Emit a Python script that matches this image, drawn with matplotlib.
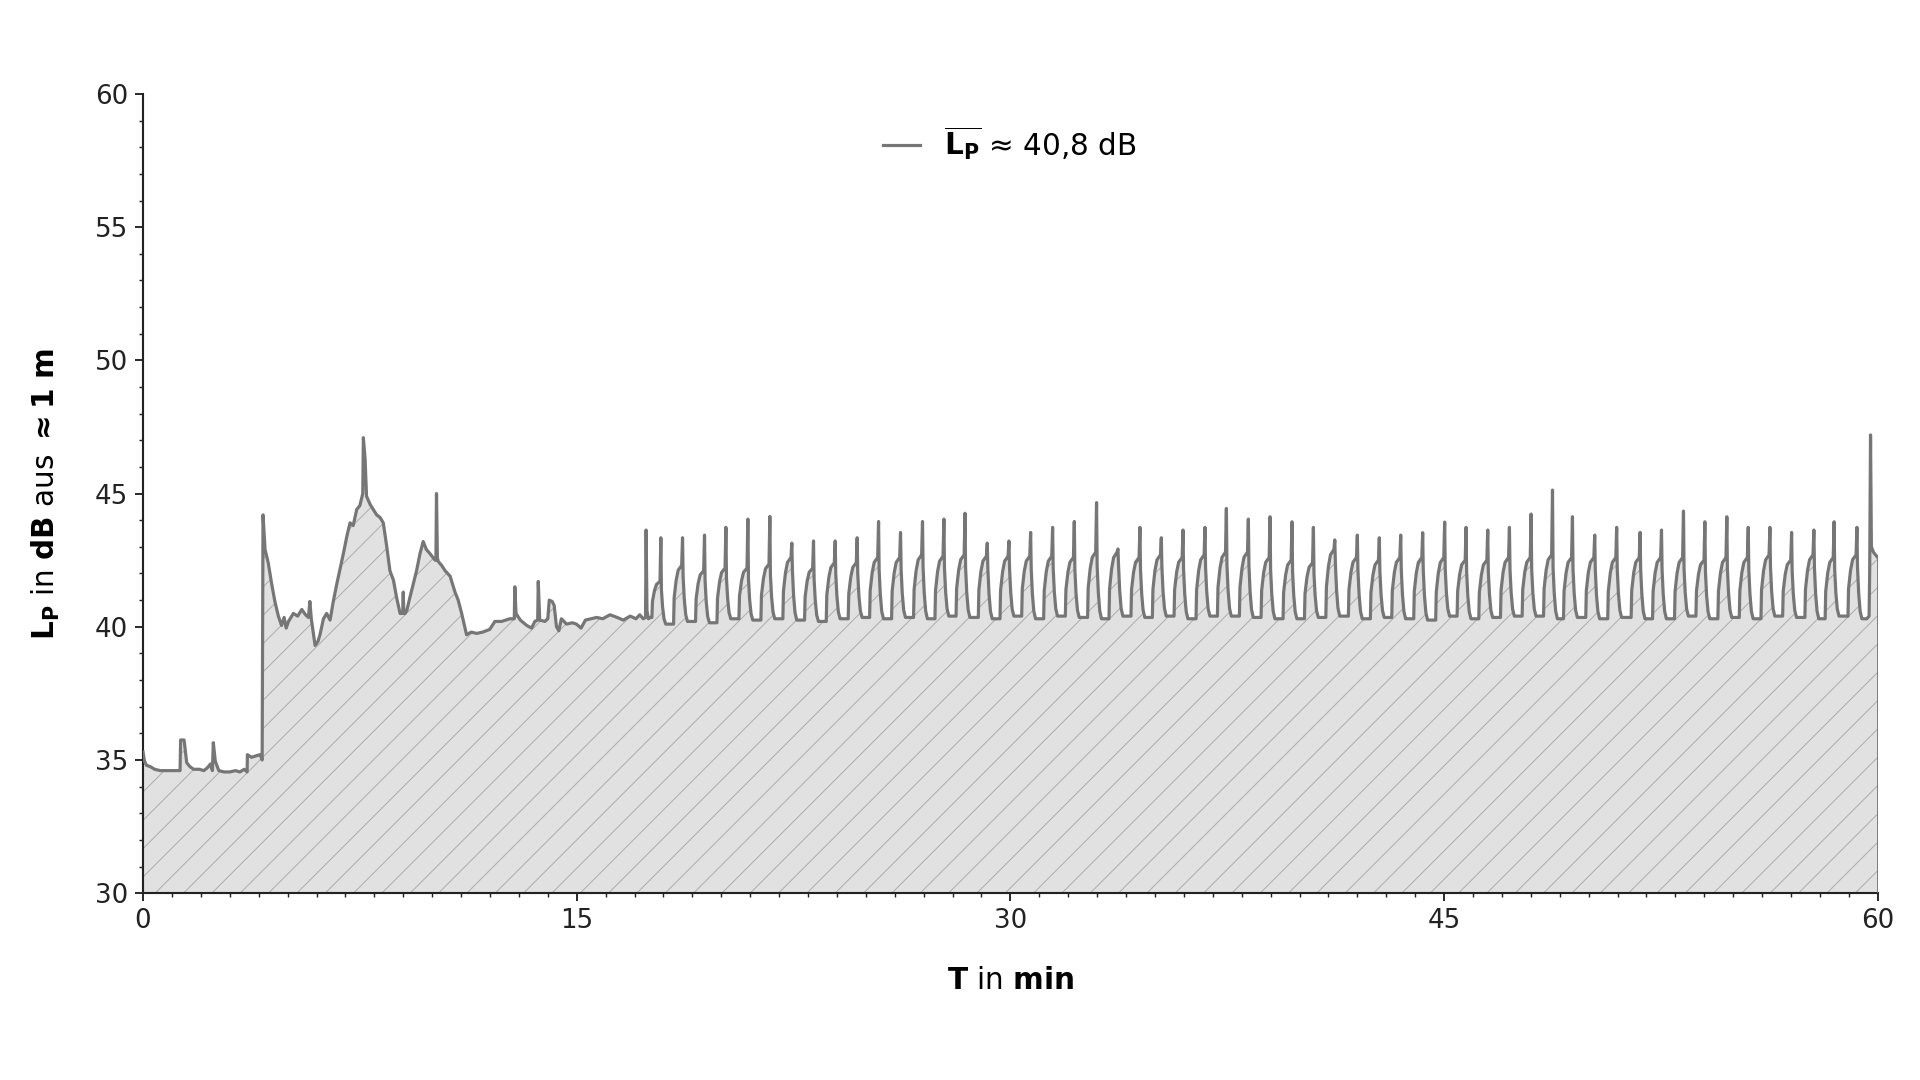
import numpy as np
import matplotlib
matplotlib.use("Agg")
import matplotlib.pyplot as plt
import matplotlib.ticker as ticker

# ---- data (T in min, L_P in dB) ----
# first part of the recording, point by point
early_t = [0.00, 0.05, 0.12, 0.25, 0.40, 0.60, 0.90, 1.28, 1.30, 1.42, 1.51, 1.62, 1.75,
           1.95, 2.10, 2.22, 2.33, 2.40, 2.43, 2.50, 2.62, 2.80, 3.00, 3.20, 3.35, 3.50,
           3.60, 3.61, 3.75, 3.90, 4.05, 4.12, 4.15, 4.22, 4.33, 4.45, 4.56, 4.68, 4.79,
           4.88, 4.95, 5.03, 5.20, 5.35, 5.49, 5.62, 5.72, 5.77, 5.82, 5.89, 5.95, 6.05,
           6.12, 6.24, 6.35, 6.47, 6.58, 6.70, 6.93, 7.05, 7.16, 7.27, 7.39, 7.50, 7.60,
           7.62, 7.68, 7.73, 7.85, 8.08, 8.20, 8.31, 8.43, 8.54, 8.66, 8.77, 8.89, 8.98,
           9.00, 9.02, 9.06, 9.12, 9.23, 9.46, 9.58, 9.69, 9.80, 9.92, 10.10, 10.13, 10.15,
           10.18, 10.21, 10.33, 10.45, 10.62, 10.79, 10.90, 11.02, 11.19, 11.35, 11.54,
           11.75, 11.99, 12.17, 12.40, 12.69, 12.84, 12.86, 12.90, 13.05, 13.27, 13.44,
           13.55, 13.65, 13.67, 13.72, 13.90, 14.00, 14.05, 14.15, 14.22, 14.30, 14.38,
           14.47, 14.65, 14.85, 14.99, 15.15, 15.30, 15.50, 15.69, 15.90, 16.15, 16.40,
           16.61, 16.85, 17.05, 17.18, 17.30, 17.38, 17.40, 17.43, 17.48, 17.55]
early_db = [35.3, 34.95, 34.8, 34.75, 34.65, 34.6, 34.6, 34.6, 35.75, 35.75, 34.9, 34.75, 34.65,
            34.65, 34.6, 34.7, 34.85, 34.6, 35.65, 34.95, 34.6, 34.55, 34.55, 34.6, 34.55, 34.65,
            34.55, 35.2, 35.1, 35.15, 35.2, 35.0, 44.2, 42.9, 42.4, 41.6, 40.95, 40.4, 40.05,
            40.35, 39.95, 40.2, 40.5, 40.4, 40.65, 40.45, 40.35, 40.95, 40.3, 39.75, 39.3, 39.45,
            39.7, 40.3, 40.5, 40.25, 40.95, 41.6, 42.75, 43.4, 43.9, 43.8, 44.4, 44.55, 45.0,
            47.1, 46.3, 44.9, 44.6, 44.2, 44.1, 43.9, 43.0, 42.1, 41.75, 41.1, 40.5, 40.5,
            41.3, 40.5, 40.5, 40.6, 41.1, 42.1, 42.75, 43.2, 42.9, 42.75, 42.5, 42.5, 45.0,
            42.6, 42.45, 42.3, 42.1, 41.9, 41.3, 41.0, 40.5, 39.7, 39.8, 39.75,
            39.8, 39.9, 40.2, 40.2, 40.3, 40.3, 41.5, 40.5, 40.25, 40.05, 39.95,
            40.2, 40.25, 41.7, 40.25, 40.2, 40.3, 41.0, 40.95, 40.8, 40.0, 39.85,
            40.3, 40.1, 40.15, 40.1, 39.95, 40.25, 40.3, 40.35, 40.3, 40.45, 40.35,
            40.25, 40.4, 40.3, 40.45, 40.3, 40.35, 43.63, 40.6, 40.3, 40.35]

# periodic part: one entry per cycle
peak_t = [17.91, 18.66, 19.42, 20.16, 20.92, 21.68, 22.44, 23.19, 23.94, 24.70, 25.44, 26.20,
          26.96, 27.70, 28.43, 29.20, 29.95, 30.70, 31.46, 32.21, 32.98, 33.72, 34.48, 35.22,
          35.97, 36.73, 37.47, 38.23, 38.98, 39.74, 40.48, 41.22, 42.00, 42.76, 43.50, 44.26,
          45.02, 45.76, 46.51, 47.26, 48.01, 48.75, 49.44, 50.21, 50.97, 51.78, 52.52, 53.28,
          54.02, 54.78, 55.52, 56.27, 57.02, 57.79, 58.49, 59.28]
peak_db = [43.34, 43.34, 43.44, 43.73, 44.04, 44.14, 43.14, 43.22, 43.22, 43.34, 43.95, 43.54,
           43.95, 44.04, 44.26, 43.14, 43.22, 43.54, 43.73, 43.95, 44.66, 42.92, 43.73, 43.34,
           43.63, 43.73, 44.44, 44.04, 44.13, 43.94, 43.73, 43.26, 43.44, 43.34, 43.44, 43.53,
           43.93, 43.73, 43.63, 43.73, 44.23, 45.13, 44.13, 43.44, 43.73, 43.54, 43.63, 44.34,
           43.94, 44.13, 43.73, 43.73, 43.54, 43.63, 43.94, 43.73]
shoulder_db = [41.7, 42.3, 42.1, 42.2, 42.2, 42.35, 42.6, 42.2, 42.4, 42.4, 42.6, 42.6,
               42.7, 42.65, 42.7, 42.65, 42.65, 42.65, 42.65, 42.6, 42.8, 42.8, 42.6, 42.7,
               42.6, 42.7, 42.8, 42.8, 42.6, 42.5, 42.4, 42.9, 42.6, 42.5, 42.6, 42.6,
               42.6, 42.5, 42.5, 42.6, 42.6, 42.7, 42.6, 42.6, 42.6, 42.6, 42.6, 42.6,
               42.5, 42.6, 42.6, 42.7, 42.5, 42.7, 42.6, 42.7]
trough_db = [40.1, 40.2, 40.15, 40.3, 40.25, 40.3, 40.25, 40.2, 40.3, 40.35, 40.3, 40.35,
             40.3, 40.4, 40.35, 40.3, 40.4, 40.3, 40.4, 40.35, 40.3, 40.4, 40.35, 40.4,
             40.3, 40.4, 40.4, 40.35, 40.3, 40.3, 40.35, 40.4, 40.3, 40.35, 40.3, 40.25,
             40.4, 40.3, 40.35, 40.4, 40.4, 40.3, 40.35, 40.3, 40.35, 40.3, 40.3, 40.4,
             40.3, 40.35, 40.3, 40.4, 40.35, 40.3, 40.4, 40.3]

# last seconds
tail_t = [59.62, 59.70, 59.72, 59.75, 59.78, 59.85, 59.92, 60.00]
tail_db = [40.3, 40.4, 42.0, 47.2, 43.0, 42.8, 42.7, 42.6]

mean_label = r"$\overline{\mathbf{L_P}}$ ≈ 40,8 dB"

# ---- assemble the series ----
t_all = list(early_t)
db_all = list(early_db)
rise_dt = [-0.31, -0.29, -0.22, -0.15, -0.03]
rise_fr = [0.0, 0.45, 0.75, 0.92, 1.0]
fall_dt = [0.02, 0.06, 0.11, 0.17]
fall_fr = [0.8, 0.4, 0.12, 0.0]
prev = early_db[-1]
for p, pk, sh, tr in zip(peak_t, peak_db, shoulder_db, trough_db):
    for dt, fr in zip(rise_dt, rise_fr):
        t_all.append(p + dt)
        db_all.append(prev + (sh - prev) * fr)
    t_all.append(p)
    db_all.append(pk)
    for dt, fr in zip(fall_dt, fall_fr):
        t_all.append(p + dt)
        db_all.append(tr + (sh - tr) * fr)
    prev = tr
t_all += tail_t
db_all += tail_db
t_all = np.array(t_all)
db_all = np.array(db_all)

# ---- plot ----
plt.rcParams['hatch.linewidth'] = 0.4
dpi = 170
fig = plt.figure(figsize=(1920 / dpi, 1080 / dpi), dpi=dpi)
ax = fig.add_axes([0.0745, 0.173, 0.9035, 0.74])

line_col = '#767676'
ax.fill_between(t_all, 30, db_all, facecolor='#e1e1e1', edgecolor='#ababab',
                hatch='//', linewidth=0, zorder=1)
ax.plot(t_all, db_all, color=line_col, lw=1.35, zorder=3, label=mean_label)
ax.vlines(t_all[-1], 30, db_all[-1], color=line_col, lw=1.2, zorder=3)

ax.set_xlim(0, 60)
ax.set_ylim(30, 60)
ax.xaxis.set_major_locator(ticker.MultipleLocator(15))
ax.xaxis.set_minor_locator(ticker.MultipleLocator(1))
ax.yaxis.set_major_locator(ticker.MultipleLocator(5))
ax.yaxis.set_minor_locator(ticker.MultipleLocator(1))

for side in ['top', 'right']:
    ax.spines[side].set_visible(False)
for side in ['left', 'bottom']:
    ax.spines[side].set_linewidth(0.9)
    ax.spines[side].set_color('#222222')
ax.tick_params(which='major', length=3.2, width=0.8, labelsize=11, colors='#222222', pad=3)
ax.tick_params(which='minor', length=1.8, width=0.6, colors='#222222')

ax.set_xlabel(r"$\mathbf{T}$ in $\mathbf{min}$", fontsize=12.5)
ax.set_ylabel(r"$\mathbf{L_P}$ in $\mathbf{dB}$ aus $\mathbf{\approx 1\ m}$", fontsize=12.5)
ax.xaxis.set_label_coords(0.5, -0.091)
ax.yaxis.set_label_coords(-0.047, 0.5)

ax.legend(loc='center', bbox_to_anchor=(0.526, 0.8676), bbox_transform=fig.transFigure,
          frameon=False, fontsize=12.5, handlelength=1.25, handletextpad=0.8)

fig.savefig('out.png', dpi=dpi)
